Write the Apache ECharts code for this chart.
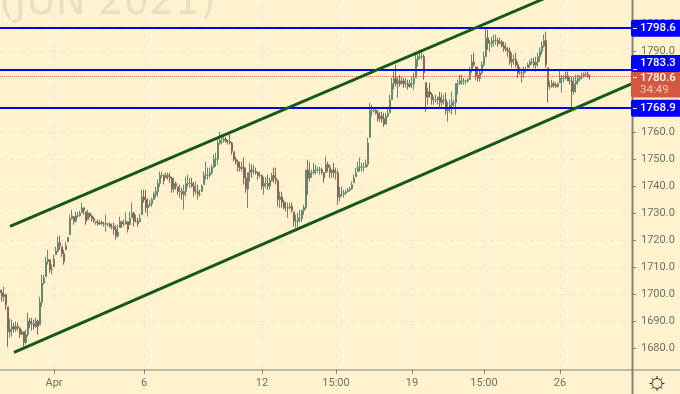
<!DOCTYPE html>
<html>
<head>
<meta charset="utf-8">
<style>html,body{margin:0;padding:0;background:#fff2cf}#c{width:680px;height:394px}</style>
<script src="https://cdn.jsdelivr.net/npm/echarts@6/dist/echarts.min.js"></script>
</head>
<body>
<div id="c"></div>
<script>
const highs = [1706.8,1701.6,1702.7,1699.8,1695.3,1690.9,1690.5,1689.4,1689.8,1689.4,
1687.5,1686.8,1686.0,1686.8,1693.1,1691.2,1691.2,1690.5,1691.2,1690.5,
1699.0,1707.2,1707.2,1713.8,1716.4,1712.7,1710.9,1714.6,1717.6,1721.3,
1721.6,1717.6,1716.4,1719.4,1721.3,1729.4,1731.3,1728.7,1730.5,1730.5,
1730.9,1733.9,1732.0,1730.5,1731.3,1730.2,1729.4,1728.7,1726.8,1727.6,
1727.6,1727.2,1726.8,1729.4,1726.5,1726.5,1726.1,1726.5,1725.7,1725.7,
1728.7,1726.8,1727.6,1730.2,1726.8,1730.5,1733.9,1730.5,1729.4,1728.3,
1729.8,1738.7,1738.7,1738.7,1735.7,1735.0,1735.7,1738.0,1739.8,1742.4,
1745.4,1745.4,1744.3,1745.0,1745.0,1745.0,1743.5,1743.1,1741.7,1739.8,
1740.6,1739.4,1740.6,1743.5,1744.3,1743.1,1743.1,1741.7,1741.7,1740.6,
1738.7,1740.6,1745.4,1749.1,1746.9,1746.9,1748.0,1751.7,1752.4,1758.0,
1760.2,1758.3,1759.1,1758.3,1757.2,1759.1,1756.5,1752.8,1750.9,1749.8,
1749.1,1749.1,1750.6,1746.9,1741.7,1748.7,1748.0,1748.0,1746.9,1745.4,
1745.4,1744.3,1743.5,1743.5,1744.3,1743.1,1745.0,1746.9,1746.9,1742.4,
1738.0,1738.0,1735.0,1734.3,1733.9,1733.9,1733.9,1730.5,1729.4,1730.2,
1731.3,1731.3,1733.1,1743.5,1749.8,1749.1,1746.1,1748.7,1748.0,1747.2,
1747.2,1746.9,1745.0,1750.9,1749.1,1748.0,1746.1,1748.7,1746.9,1746.1,
1739.8,1739.8,1738.7,1738.7,1739.4,1739.8,1741.7,1744.3,1746.9,1749.1,
1750.6,1748.7,1748.7,1749.8,1758.0,1770.9,1770.2,1769.1,1768.7,1768.4,
1767.6,1767.6,1767.2,1767.2,1769.1,1773.9,1780.2,1782.5,1785.0,1780.6,
1781.3,1780.6,1780.2,1780.2,1779.5,1779.5,1780.6,1782.1,1789.5,1789.9,
1790.6,1789.9,1788.8,1778.4,1776.5,1778.4,1774.7,1773.2,1773.9,1773.2,
1775.0,1774.7,1773.9,1774.7,1771.3,1772.1,1775.0,1772.1,1776.5,1779.5,
1781.3,1781.3,1780.2,1779.5,1780.2,1784.3,1788.8,1789.5,1784.3,1784.3,
1783.2,1786.2,1789.9,1798.8,1798.0,1794.3,1795.4,1796.2,1796.2,1795.1,
1795.1,1794.3,1793.6,1793.2,1791.7,1791.4,1789.5,1788.8,1789.5,1786.2,
1784.3,1783.9,1784.3,1784.3,1785.8,1786.9,1787.6,1787.6,1788.0,1789.5,
1791.4,1793.6,1796.2,1797.3,1783.9,1778.8,1779.5,1778.8,1778.4,1778.4,
1783.2,1781.3,1781.3,1782.5,1782.5,1780.6,1780.6,1780.6,1781.3,1781.3,
1781.3,1782.1,1782.1,1782.5,1782.5,1781.3];
const lows = [1697.9,1697.2,1697.2,1694.2,1680.5,1683.8,1684.2,1685.7,1686.0,1686.4,
1683.8,1684.9,1680.5,1681.2,1684.2,1687.5,1686.4,1686.8,1687.5,1684.9,
1688.6,1695.3,1703.5,1706.4,1710.9,1707.9,1707.2,1710.1,1714.6,1715.3,
1716.4,1713.8,1710.9,1716.4,1719.4,1722.0,1727.6,1725.7,1726.5,1728.3,
1728.7,1730.2,1729.4,1725.7,1727.6,1728.3,1726.8,1726.5,1725.7,1725.3,
1725.7,1725.7,1725.0,1723.1,1725.0,1724.6,1723.9,1722.0,1720.2,1720.9,
1724.6,1724.6,1725.0,1725.7,1722.8,1725.7,1728.3,1725.0,1726.5,1725.0,
1726.8,1729.4,1733.9,1730.2,1728.7,1732.4,1732.4,1735.0,1735.7,1736.1,
1739.8,1743.1,1740.6,1743.1,1742.4,1741.3,1737.6,1737.6,1738.7,1736.8,
1735.7,1735.0,1731.3,1736.1,1739.8,1739.4,1739.4,1736.1,1736.8,1735.0,
1736.1,1738.0,1740.6,1742.4,1742.4,1743.1,1744.3,1746.9,1747.2,1748.0,
1755.4,1755.4,1756.1,1756.1,1755.4,1755.4,1751.7,1749.1,1748.0,1745.4,
1745.4,1745.4,1740.6,1737.6,1732.0,1741.7,1743.1,1744.3,1744.3,1742.4,
1743.1,1738.7,1736.8,1739.4,1738.7,1738.7,1741.7,1741.3,1740.6,1732.4,
1732.0,1732.0,1731.3,1730.5,1728.3,1731.3,1730.2,1725.0,1724.6,1724.6,
1726.5,1726.8,1729.4,1731.3,1736.8,1741.7,1743.1,1744.3,1744.3,1745.0,
1744.3,1744.3,1741.3,1745.0,1745.4,1743.1,1743.1,1743.1,1742.4,1733.1,
1734.3,1736.1,1735.7,1736.8,1737.6,1738.0,1738.7,1741.3,1743.5,1745.4,
1745.4,1745.4,1745.4,1746.9,1747.2,1758.0,1765.8,1767.3,1766.5,1763.9,
1763.9,1763.5,1762.0,1762.8,1765.4,1767.2,1772.1,1775.8,1776.9,1772.8,
1776.9,1777.6,1776.5,1776.5,1775.8,1776.5,1776.5,1775.8,1780.2,1784.3,
1786.9,1786.9,1779.5,1767.6,1770.2,1772.8,1770.2,1770.2,1771.0,1770.2,
1769.1,1769.5,1770.2,1766.5,1763.9,1767.2,1766.5,1769.5,1766.5,1773.9,
1777.6,1777.6,1777.6,1777.6,1778.4,1779.5,1782.1,1784.3,1779.5,1778.8,
1778.8,1781.3,1784.3,1788.0,1790.6,1789.9,1791.4,1791.7,1792.5,1791.7,
1792.5,1791.4,1789.9,1789.9,1788.0,1785.0,1783.9,1785.0,1783.9,1780.2,
1781.3,1778.4,1780.2,1782.1,1783.9,1783.9,1785.0,1783.9,1782.5,1784.3,
1786.2,1788.8,1791.4,1783.9,1771.0,1775.8,1776.5,1776.5,1776.5,1776.5,
1778.4,1774.7,1778.4,1779.5,1779.5,1777.6,1769.5,1773.9,1774.7,1777.6,
1778.8,1779.5,1780.2,1780.6,1780.2,1779.5];
const closes = [1700.5,1699,1700,1696,1686,1687,1688,1687,1688,1687.5,
1685,1686,1682,1685,1690,1689,1689,1688,1690,1688,
1697,1704,1706,1712,1713,1709,1709,1713,1716,1719,
1718,1715,1712,1718,1721,1728,1729,1727,1729,1729,
1730,1732,1731,1727,1730,1729,1728,1727,1726.5,1726,
1726.5,1726,1726,1726,1726,1725,1725,1724,1721.5,1723,
1727,1726,1726,1727,1724,1728,1730,1727,1727,1726,
1728,1736,1735,1732,1733,1733.5,1735,1737,1738,1741,
1744,1744,1742,1744,1743.5,1743,1739,1741,1740,1738,
1738,1737,1738,1741,1741,1741,1740,1738,1738,1737,
1737,1740,1744,1744,1744,1745,1747,1750,1750,1756,
1757,1757,1757.5,1756.5,1756.5,1756,1753,1750,1749,1747,
1746.5,1747,1743,1739,1745,1746,1745.5,1745.5,1745,1744,
1744,1740,1741,1741,1740,1742,1744,1743,1742,1735,
1736,1734,1732,1732,1732,1732.5,1731,1727,1727,1728,
1728,1731,1732,1746,1743,1745,1745,1746,1746,1746,
1746,1745,1743,1748,1747,1745,1746,1745,1745,1736,
1737,1737,1737.5,1738,1738.5,1739,1740.5,1743,1745,1747,
1747,1747,1747,1748,1756,1768,1768,1768,1767,1765,
1766,1765,1763,1766,1767,1772,1778,1780,1778,1779,
1778,1779,1778,1778,1777,1778,1778,1780,1787,1788,
1788,1788,1782,1773,1775,1774,1772,1772,1772,1773,
1771,1772,1772,1768,1769,1770,1771,1771,1778,1778,
1779,1779,1779,1779,1779.5,1783,1786,1785,1781,1780,
1782,1785,1788,1795,1793,1793,1794,1794,1794,1793,
1793.5,1792,1791,1790.5,1790,1786,1787,1787,1785,1782,
1782,1782,1783,1783,1785,1786,1786,1785,1786,1788,
1790,1792,1794,1785,1777,1777,1778,1777.5,1777,1778,
1780,1780,1780,1781,1779,1779,1775,1778,1779,1780,
1780.5,1781,1781.5,1781.5,1781,1780.6];

const dateTicks = {27:'Apr',72:'6',131:'12',168:'15:00',206:'19',242:'15:00',280:'26'};
const slotCount = 317;
const priceTicks = [1680,1690,1700,1710,1720,1730,1740,1750,1760,1770,1780,1790,1800,1810];
const levels = [1798.6,1783.3,1768.9];
const lastPrice = 1780.6;
const countdown = '34:49';
const upperChannel = [[5,1725.1],[272,1809.5]];
const lowerChannel = [[7,1678.4],[316,1778.0]];

const categories = Array.from({length:slotCount},(_,i)=>dateTicks[i]||'');
const candles = closes.map((c,i)=>{
  const o = i===0 ? c+1 : Math.min(highs[i],Math.max(lows[i],closes[i-1]));
  return [o,c,lows[i],highs[i]];
});
const tickFn = (i)=>dateTicks[i]!==undefined;
const BLUE='#0000ff', GREEN='#15591a', GREY='#84837a';
const boxLabel = (dy)=>({show:true,position:'end',distance:0,offset:[-1,dy],color:'#fff',backgroundColor:BLUE,
  borderRadius:2,padding:[3,5,3,9],fontFamily:'Roboto',fontSize:11.5,fontWeight:500,lineHeight:11,
  formatter:p=>p.value.toFixed(1)});
const hLine=(v,dy)=>({yAxis:v,lineStyle:{color:BLUE,width:2,type:'solid'},label:boxLabel(dy)});
const seg=(pts)=>[{coord:pts[0],lineStyle:{color:GREEN,width:3,type:'solid'},label:{show:false}},{coord:pts[1]}];

const rays=[];
for(let k=0;k<8;k++){const a=k*Math.PI/4;
  rays.push({type:'line',silent:true,z:5,shape:{x1:657+5*Math.cos(a),y1:383.5+5*Math.sin(a),x2:657+7.5*Math.cos(a),y2:383.5+7.5*Math.sin(a)},style:{stroke:'#33332e',lineWidth:1}});
}
const chart = echarts.init(document.getElementById('c'),null,{renderer:'canvas'});
const baseGraphic = [
    {type:'text',silent:true,z:0,x:-1,y:24,style:{text:'(JUN 2021)',fontFamily:'DejaVu Sans',fontSize:40,fill:'#e9e0c4',textVerticalAlign:'bottom'}},
    {type:'line',silent:true,z:4,shape:{x1:0,y1:370,x2:680,y2:370},style:{stroke:GREY,lineWidth:1}},
    {type:'line',silent:true,z:4,shape:{x1:632.5,y1:0,x2:632.5,y2:394},style:{stroke:GREY,lineWidth:2}},
    {type:'circle',silent:true,z:5,shape:{cx:657,cy:383.5,r:5},style:{fill:'none',stroke:'#33332e',lineWidth:1}},
    ...rays
];
chart.setOption({
  animation:false,
  backgroundColor:'#fff2cf',
  grid:{left:0,width:632,top:-16.1,height:391.06,outerBoundsMode:'none',containLabel:false},
  xAxis:{type:'category',data:categories,boundaryGap:false,offset:-5,
    axisLine:{show:false},
    axisTick:{show:true,interval:tickFn,length:4,lineStyle:{color:GREY}},
    axisLabel:{show:true,interval:tickFn,margin:8,color:'#6f6e64',fontFamily:'Roboto',fontSize:11,hideOverlap:false},
    splitLine:{show:true,interval:tickFn,lineStyle:{color:'#ece8dc',type:[5,5],width:1}}},
  yAxis:{type:'value',position:'right',min:1670,max:1815,interval:10,
    axisLine:{show:false},
    axisTick:{show:true,length:4,customValues:priceTicks,lineStyle:{color:GREY}},
    axisLabel:{margin:9,color:'#6f6e64',fontFamily:'Roboto',fontSize:11,customValues:priceTicks,formatter:v=>v.toFixed(1)},
    splitLine:{show:true,showMinLine:false,lineStyle:{color:'#ece8dc',type:[5,5],width:1}}},
  series:[{
    type:'candlestick',z:5,data:candles,barWidth:1.8,silent:true,
    itemStyle:{color:'#b0b2a0',color0:'#bb9786',borderColor:'#68886f',borderColor0:'#8f6252',borderWidth:1},
    markLine:{silent:true,symbol:'none',animation:false,z:6,
      data:[
        {yAxis:lastPrice,lineStyle:{color:'#f0704f',width:1,type:'dotted'},
         label:{show:true,position:'end',distance:0,offset:[-1,7.3],backgroundColor:'#d6573f',borderRadius:2,padding:[2,5,1,9],fontFamily:'Roboto',
           formatter:()=>'{a|'+lastPrice.toFixed(1)+'}\n{b|'+countdown+'}',
           rich:{a:{color:'#fff',fontSize:11.5,fontWeight:500,lineHeight:12,fontFamily:'Roboto'},b:{color:'#f6c9bb',fontSize:11.5,lineHeight:12,fontFamily:'Roboto'}}}},
        hLine(levels[0],0),hLine(levels[1],-6),hLine(levels[2],0),
        seg(upperChannel),seg(lowerChannel)
      ]}
  }],
  graphic:baseGraphic
});
const notches = levels.concat([lastPrice]).map(v=>{
  const y = Math.round(chart.convertToPixel({yAxisIndex:0},v))+0.5;
  return {type:'line',silent:true,z:30,shape:{x1:633,x2:637,y1:y,y2:y},style:{stroke:'#ffffff',lineWidth:1}};
});
chart.setOption({graphic:baseGraphic.concat(notches)});
</script>
</body>
</html>
